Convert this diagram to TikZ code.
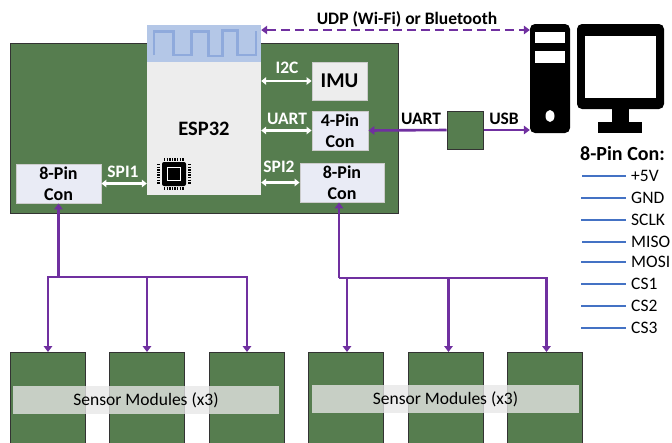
\documentclass[tikz,border=0pt]{standalone}
\usepackage{fontspec}
\setmainfont{Carlito}
\usetikzlibrary{arrows.meta,calc}
\definecolor{boardgreen}{HTML}{567D4F}
\definecolor{linkpurple}{HTML}{7030A0}
\definecolor{radioblue}{HTML}{B4C7E7}
\definecolor{waveblue}{HTML}{8FAADC}
\definecolor{pinblue}{HTML}{4472C4}
\definecolor{conpale}{HTML}{E9EBF5}
\definecolor{chipgrey}{HTML}{EDEDED}
\tikzset{
	board/.style={draw=black!80, line width=1pt, fill=boardgreen, inner sep=0pt},
	chipbox/.style={fill=chipgrey, inner sep=0pt, font=\fontsize{20.5}{24}\selectfont\bfseries},
	conbox/.style={draw=black!20, line width=0.9pt, fill=conpale, inner sep=0pt, align=center, font=\fontsize{18}{21}\selectfont\bfseries},
	banner/.style={fill=black!9.5, fill opacity=0.78, text opacity=1, inner sep=0pt, font=\fontsize{17.5}{20}\selectfont},
	wlabel/.style={text=white, inner sep=0pt, font=\fontsize{17.5}{20}\selectfont\bfseries},
	blabel/.style={text=black, inner sep=0pt, font=\fontsize{17.5}{20}\selectfont\bfseries},
	whitelink/.style={draw=white, line width=2.2pt, {Triangle[width=7.5pt,length=5pt]}-{Triangle[width=7.5pt,length=5pt]}},
	purplelink/.style={draw=linkpurple, line width=2.6pt},
	tip/.style={-{Triangle[width=8.5pt,length=6pt]}},
	pinlabel/.style={inner sep=0pt, inner xsep=5pt, anchor=west, font=\fontsize{17.5}{20}\selectfont},
	pinline/.style={draw=pinblue, line width=1.5pt},
	blackpart/.style={fill=black, rounded corners=5pt}
}

\begin{document}
\begin{tikzpicture}[x=1pt, y=-1pt]
			%%%%% START %%%%%
			
			\useasboundingbox (0, 0) rectangle (672, 442);
			\clip (0, 0) rectangle (672, 442);
			
			\node[board, minimum width=388pt, minimum height=170pt] (main) at (204, 128.5) {};
			
			\node[fill=radioblue, inner sep=0pt, minimum width=114pt, minimum height=37pt] (radio) at (204, 43.5) {};
			\node[chipbox, minimum width=114pt, minimum height=133pt] (esp) at (204, 128.5) {ESP32};
			\draw[waveblue, line width=2.4pt] (154, 55) -- (154, 31.5) -- (173.5, 31.5) -- (173.5, 55) -- (191.5, 55) -- (191.5, 31.5) -- (208.5, 31.5) -- (208.5, 56) -- (222.5, 56) -- (222.5, 30.5) -- (237.5, 30.5) -- (237.5, 55) -- (256, 55) -- (256, 30.5);
			
			\node[fill=black, rounded corners=2pt, minimum size=24pt, inner sep=0pt] (chip) at (174, 174) {};
			\draw[white, line width=1.2pt] (167.5, 167.5) rectangle (180.5, 180.5);
			\fill[black] (170, 170) rectangle (178, 178);
			\draw[black, line width=2.4pt, dash pattern=on 1.3pt off 1.3pt] (164, 159.5) -- (184, 159.5);
			\draw[black, line width=2.4pt, dash pattern=on 1.3pt off 1.3pt] (164, 188.5) -- (184, 188.5);
			\draw[black, line width=2.4pt, dash pattern=on 1.3pt off 1.3pt] (158.5, 164) -- (158.5, 184);
			\draw[black, line width=2.4pt, dash pattern=on 1.3pt off 1.3pt] (189.5, 164) -- (189.5, 184);
			
			\node[conbox, fill=chipgrey, minimum width=55pt, minimum height=38pt, font=\fontsize{21}{24}\selectfont\bfseries] (imu) at (339.5, 81) {IMU};
			\node[conbox, minimum width=56pt, minimum height=39pt] (conb) at (340, 130.5) {4-Pin\\Con};
			\node[conbox, minimum width=84pt, minimum height=39pt] (conc) at (342, 182.5) {8-Pin\\Con};
			\node[conbox, minimum width=85pt, minimum height=39pt] (cona) at (58.5, 183.5) {8-Pin\\Con};
			\node[board, minimum width=36pt, minimum height=38pt] (adapter) at (465, 130) {};
			
			\node[blackpart, minimum width=40pt, minimum height=109pt, inner sep=0pt] (tower) at (550, 78.5) {};
			\fill[white] (535, 32) rectangle (565, 43);
			\fill[white] (535, 51) rectangle (565, 63);
			\fill[white] (550, 116) ellipse (4.5 and 6);
			\fill[black] (612, 105) rectangle (629, 124);
			\fill[black] (598, 122) rectangle (642, 133);
			\node[blackpart, minimum width=87pt, minimum height=85pt, inner sep=0pt] (monitor) at (620.5, 66.5) {};
			\fill[white] (585, 36) rectangle (656, 98);
			
			\draw[whitelink] (esp.east |- imu.west) -- (imu.west);
			\draw[whitelink] (esp.east |- conb.west) -- (conb.west);
			\draw[whitelink] (esp.east |- conc.west) -- (conc.west);
			\draw[whitelink] (cona.east) -- (esp.west |- cona.east);
			
			\node[wlabel] (lbli) at (287, 68) {I2C};
			\node[wlabel] (lblu) at (287, 119) {UART};
			\node[wlabel] (lbls) at (279, 167) {SPI2};
			\node[wlabel] (lblp) at (123, 172) {SPI1};
			
			\coordinate (udp) at (400, 30);
			\draw[purplelink, dash pattern=on 9pt off 5pt, {Triangle[width=8.5pt,length=6pt]}-{Triangle[width=8.5pt,length=6pt]}] (radio.east |- udp) -- (tower.west |- udp);
			\draw[purplelink, {Triangle[width=8.5pt,length=6pt]}-] (conb.east) -- (adapter.west);
			\draw[purplelink, tip] (adapter.east) -- (tower.west |- adapter.east);
			
			\node[blabel] (lbludp) at (407, 19) {UDP (Wi-Fi) or Bluetooth};
			\node[blabel] (lbluart) at (421, 119) {UART};
			\node[blabel] (lblusb) at (504, 119) {USB};
			
			\node[board, anchor=north west, minimum width=75pt, minimum height=95pt] (moda) at (10, 352) {};
			\node[board, anchor=north west, minimum width=75pt, minimum height=95pt] (modb) at (109, 352) {};
			\node[board, anchor=north west, minimum width=75pt, minimum height=95pt] (modc) at (209, 352) {};
			\node[board, anchor=north west, minimum width=75pt, minimum height=95pt] (modd) at (308, 352) {};
			\node[board, anchor=north west, minimum width=75pt, minimum height=95pt] (mode) at (408, 352) {};
			\node[board, anchor=north west, minimum width=75pt, minimum height=95pt] (modf) at (507, 352) {};
			
			\coordinate (busa) at (58.5, 277);
			\coordinate (busb) at (339, 278);
			\draw[purplelink, {Triangle[width=8.5pt,length=6pt]}-] (cona.south) -- (busa);
			\draw[purplelink, {Triangle[width=8.5pt,length=6pt]}-] (conc.south -| busb) -- (busb);
			\draw[purplelink, tip] (busa) -- (moda.north |- busa) -- (moda.north);
			\draw[purplelink, tip] (busa) -- (modb.north |- busa) -- (modb.north);
			\draw[purplelink, tip] (busa) -- (modc.north |- busa) -- (modc.north);
			\draw[purplelink, tip] (busb) -- ([xshift=1pt]modd.north |- busb) -- ([xshift=1pt]modd.north);
			\draw[purplelink, tip] (busb) -- ([xshift=2.5pt]mode.north |- busb) -- ([xshift=2.5pt]mode.north);
			\draw[purplelink, tip] (busb) -- ([xshift=1.5pt]modf.north |- busb) -- ([xshift=1.5pt]modf.north);
			
			\node[banner, minimum width=266pt, minimum height=28pt] (bannera) at (146, 400) {Sensor Modules (x3)};
			\node[banner, minimum width=267pt, minimum height=28pt] (bannerb) at (445.5, 399) {Sensor Modules (x3)};
			
			\node[inner sep=0pt, font=\fontsize{20}{24}\selectfont\bfseries] (legend) at (622.5, 154) {8-Pin Con:};
			
			\node[pinlabel] (pina) at (626, 176) {+5V};
			\node[pinlabel] (pinb) at (626, 198) {GND};
			\node[pinlabel] (pinc) at (626, 220) {SCLK};
			\node[pinlabel] (pind) at (626, 242) {MISO};
			\node[pinlabel] (pine) at (626, 262) {MOSI};
			\node[pinlabel] (pinf) at (626, 284) {CS1};
			\node[pinlabel] (ping) at (626, 306) {CS2};
			\node[pinlabel] (pinh) at (626, 328) {CS3};
			
			\coordinate (enda) at (582, 176);
			\coordinate (endb) at (581, 198);
			\coordinate (endc) at (581, 220);
			\coordinate (endd) at (582, 242);
			\coordinate (ende) at (581, 262);
			\coordinate (endf) at (581, 284);
			\coordinate (endg) at (581, 306);
			\coordinate (endh) at (581, 328);
			
			\draw[pinline] (enda) -- (pina.west);
			\draw[pinline] (endb) -- (pinb.west);
			\draw[pinline] (endc) -- (pinc.west);
			\draw[pinline] (endd) -- (pind.west);
			\draw[pinline] (ende) -- (pine.west);
			\draw[pinline] (endf) -- (pinf.west);
			\draw[pinline] (endg) -- (ping.west);
			\draw[pinline] (endh) -- (pinh.west);
			
			%%%%% END %%%%%
		\end{tikzpicture}
\end{document}
